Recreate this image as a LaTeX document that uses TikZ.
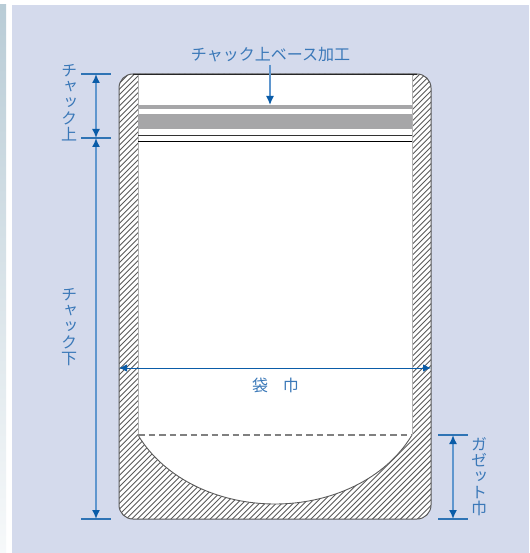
\documentclass[tikz,border=0pt]{standalone}
\usepackage{fontspec}
\usetikzlibrary{arrows.meta}
\newfontfamily\jp{Noto Sans CJK JP}
\newfontfamily\jpv[RawFeature=+vert]{Noto Sans CJK JP}
\definecolor{panel}{HTML}{D4DAEC}
\definecolor{stripc}{HTML}{B9CCD6}
\definecolor{dimc}{HTML}{5F96CE}
\definecolor{headc}{HTML}{0A5CA8}
\definecolor{txtc}{HTML}{3A78B8}
\definecolor{bandc}{HTML}{A6A6A8}
\definecolor{hatchc}{HTML}{5A5A5A}
\newcommand{\vstack}[1]{\jpv\baselineskip=15.7pt #1}
\tikzset{
  dimline/.style={draw=dimc,line width=1.6pt,{Latex[length=9pt,width=8pt,color=headc]}-{Latex[length=9pt,width=8pt,color=headc]}},
  tickline/.style={draw=headc!85!white,line width=1.1pt},
  lbl/.style={text=txtc,font=\fontsize{16}{16}\selectfont\jp,inner sep=0pt},
  vlbl/.style={text=txtc,font=\fontsize{16}{16}\selectfont\jpv,inner sep=0pt,align=center}
}
\begin{document}
\begin{tikzpicture}[x=1pt,y=-1pt]
\useasboundingbox (0,0) rectangle (529,553);
\fill[white] (0,0) rectangle (529,553);
\shade[top color=stripc,bottom color=stripc!12!white,middle color=stripc!55!white] (0,5) rectangle (6,553);
\fill[panel] (12,5) rectangle (529,553);
% bag hatch
\begin{scope}
  \clip (133,74) -- (417,74) arc[start angle=-90,end angle=0,radius=14] -- (431,505)
     arc[start angle=0,end angle=90,radius=14] -- (133,519)
     arc[start angle=90,end angle=180,radius=14] -- (119,88)
     arc[start angle=180,end angle=270,radius=14] -- cycle;
  \fill[white] (119,74) rectangle (431,519);
  \foreach \k in {0,5.6,...,1000}
    \draw[hatchc,line width=0.9pt] (\k-400,530) -- (\k+80,50);
\end{scope}
% inner white area
\fill[white] (138,74) -- (412,74) -- (412,435)
  .. controls (385,480) and (330,504) .. (275,504)
  .. controls (220,504) and (165,480) .. (138,435) -- cycle;
\draw[hatchc,line width=0.9pt] (412,435) .. controls (385,480) and (330,504) .. (275,504)
  .. controls (220,504) and (165,480) .. (138,435);
\draw[black!30,line width=1pt] (138,74) -- (138,435) (412,74) -- (412,435);
% bands
\fill[bandc] (138,105) rectangle (412,109);
\fill[bandc] (138,114) rectangle (412,129);
\draw[black!80,line width=0.8pt] (138,135) -- (412,135);
\draw[black,line width=0.9pt] (138,141) -- (412,141);
\draw[black!50,line width=1.3pt,dash pattern=on 6.5pt off 4pt] (138,435) -- (412,435);
% outline
\draw[hatchc,line width=1pt] (133,74) -- (417,74) arc[start angle=-90,end angle=0,radius=14] -- (431,505)
     arc[start angle=0,end angle=90,radius=14] -- (133,519)
     arc[start angle=90,end angle=180,radius=14] -- (119,88)
     arc[start angle=180,end angle=270,radius=14] -- cycle;
\draw[black!85,line width=0.9pt] (133,74) -- (417,74);
% dimension anchors
\coordinate (lt) at (96,74);
\coordinate (lm) at (96,138);
\coordinate (lb) at (96,519);
\coordinate (rt) at (453,435);
\coordinate (rb) at (453,519);
\coordinate (wl) at (119,368);
\coordinate (wr) at (431,368);
\coordinate (bs) at (270,105);
% ticks
\draw[tickline] ([xshift=-15pt]lt) -- ([xshift=15pt]lt);
\draw[tickline] ([xshift=-15pt]lm) -- ([xshift=15pt]lm);
\draw[tickline] ([xshift=-15pt]lb) -- ([xshift=15pt]lb);
\draw[tickline] ([xshift=-15pt]rt) -- ([xshift=15pt]rt);
\draw[tickline] ([xshift=-15pt]rb) -- ([xshift=15pt]rb);
% labels
\node[lbl] (base) at (270.5,55) {チャック上ベース加工};
\node[vlbl] (up) at (69,103) {\vstack{チ\\ャ\\ッ\\ク\\上}};
\node[vlbl] (down) at (69,327) {\vstack{チ\\ャ\\ッ\\ク\\下}};
\node[vlbl] (gus) at (479,477) {\vstack{ガ\\ゼ\\ッ\\ト\\巾}};
\node[lbl] (wid) at (275.5,385) {袋\hspace{15pt}巾};
% dimension arrows
\draw[dimline] (lt) -- (lm);
\draw[dimline] (lm) -- (lb);
\draw[dimline] (rt) -- (rb);
\draw[draw=headc,line width=0.9pt,{Latex[length=8pt,width=7.5pt]}-{Latex[length=8pt,width=7.5pt]}] (wl) -- (wr);
\draw[draw=dimc,line width=1.4pt,-{Latex[length=9pt,width=8pt,color=headc]}] (base.south -| bs) ++(0,2) -- (bs);
\end{tikzpicture}
\end{document}
